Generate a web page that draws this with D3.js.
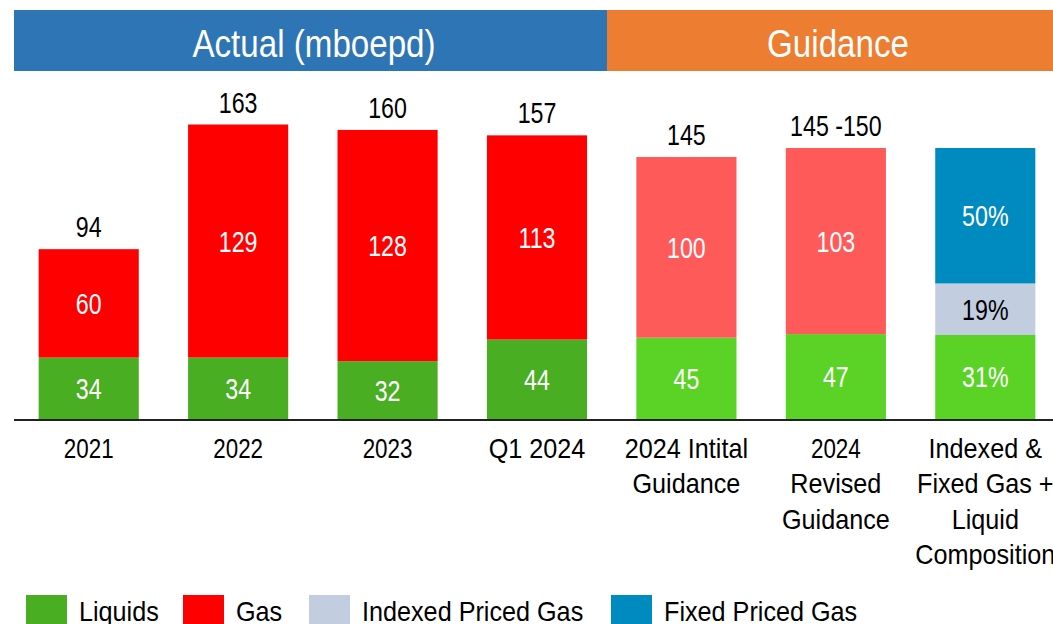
<!DOCTYPE html>
<html>
<head>
<meta charset="utf-8">
<script src="https://cdn.jsdelivr.net/npm/d3@7"></script>
<style>
  body { margin: 0; background: #fff; }
  svg text { font-family: "Liberation Sans", Arial, sans-serif; }
</style>
</head>
<body>
<div id="chart"></div>
<script>
// categories and their wrapped labels
const categories = ["2021", "2022", "2023", "Q1 2024", "2024 Intital Guidance", "2024 Revised Guidance", "Composition"];
const categoryLines = [
    ["2021"], ["2022"], ["2023"], ["Q1 2024"],
    ["2024 Intital", "Guidance"],
    ["2024", "Revised", "Guidance"],
    ["Indexed &", "Fixed Gas +", "Liquid", "Composition"]
];

// mboepd production (stacked)
const stackedCats = ["2021", "2022", "2023", "Q1 2024", "2024 Intital Guidance", "2024 Revised Guidance"];
const phase = ["actual", "actual", "actual", "actual", "guidance", "guidance"];
const liquids = [34, 34, 32, 44, 45, 47];
const gas = [60, 129, 128, 113, 100, 103];
const totalLabels = ["94", "163", "160", "157", "145", "145 -150"];

// composition bar (percent)
const compSeries = ["Liquids", "Indexed Priced Gas", "Fixed Priced Gas"];
const compValues = [31, 19, 50];

// header sections
const headers = ["Actual (mboepd)", "Guidance"];

const legendItems = ["Liquids", "Gas", "Indexed Priced Gas", "Fixed Priced Gas"];

const colors = {
    actualLiquids: "#4aae22",
    actualGas: "#ff0000",
    guidanceLiquids: "#5bd226",
    guidanceGas: "#ff5a5a",
    indexed: "#c3cde0",
    fixed: "#008bc0",
    headerBlue: "#2e75b5",
    headerOrange: "#ed7d31"
};

const width = 1053, height = 624;
const baseline = 419;

// the original uses a condensed face; squeeze Liberation Sans horizontally
const sxFor = s => /^[\d\s%\-]+$/.test(String(s)) ? 0.8 : 0.9;
const place = (px, py, s) => `translate(${px},${py}) scale(${sxFor(s)},1)`;

const svg = d3.select("#chart").append("svg")
    .attr("width", width)
    .attr("height", height);

const x = d3.scaleBand()
    .domain(categories)
    .range([14, 1060])
    .paddingInner(0.33)
    .paddingOuter(0.165);

const y = d3.scaleLinear()
    .domain([0, 150])
    .range([baseline, 148]);

// composition shares fill the same height as the revised guidance bar
const yPct = d3.scaleLinear()
    .domain([0, 100])
    .range([baseline, y(150)]);

const cx = c => x(c) + x.bandwidth() / 2;

// header bands
const headerX = [14, 607];
const headerW = [593, 460];
const headerFill = [colors.headerBlue, colors.headerOrange];
const headerCx = [314, 838];

svg.selectAll(".header")
    .data(headers)
    .enter().append("rect")
    .attr("x", (d, i) => headerX[i])
    .attr("y", 10)
    .attr("width", (d, i) => headerW[i])
    .attr("height", 61)
    .attr("fill", (d, i) => headerFill[i]);

svg.selectAll(".header-text")
    .data(headers)
    .enter().append("text")
    .attr("transform", (d, i) => `translate(${headerCx[i]},57) scale(0.85,1)`)
    .attr("text-anchor", "middle")
    .attr("fill", "#fff")
    .style("font-size", "39px")
    .text(d => d);

// stacked bars
const stackData = stackedCats.map((c, i) => ({ cat: c, phase: phase[i], liquids: liquids[i], gas: gas[i], total: totalLabels[i] }));

const groups = svg.selectAll(".bar")
    .data(stackData)
    .enter().append("g")
    .attr("class", "bar");

groups.append("rect")
    .attr("x", d => x(d.cat))
    .attr("width", x.bandwidth())
    .attr("y", d => y(d.liquids))
    .attr("height", d => baseline - y(d.liquids))
    .attr("fill", d => d.phase === "actual" ? colors.actualLiquids : colors.guidanceLiquids);

groups.append("rect")
    .attr("x", d => x(d.cat))
    .attr("width", x.bandwidth())
    .attr("y", d => y(d.liquids + d.gas))
    .attr("height", d => y(d.liquids) - y(d.liquids + d.gas))
    .attr("fill", d => d.phase === "actual" ? colors.actualGas : colors.guidanceGas);

groups.append("text")
    .attr("transform", d => place(cx(d.cat), (baseline + y(d.liquids)) / 2 + 10.5, d.liquids))
    .attr("text-anchor", "middle")
    .attr("fill", "#fff")
    .style("font-size", "29px")
    .text(d => d.liquids);

groups.append("text")
    .attr("transform", d => place(cx(d.cat), (y(d.liquids) + y(d.liquids + d.gas)) / 2 + 10.5, d.gas))
    .attr("text-anchor", "middle")
    .attr("fill", "#fff")
    .style("font-size", "29px")
    .text(d => d.gas);

groups.append("text")
    .attr("transform", d => place(cx(d.cat), y(d.liquids + d.gas) - 12, d.total))
    .attr("text-anchor", "middle")
    .attr("fill", "#000")
    .style("font-size", "29px")
    .text(d => d.total);

// composition bar
const compColors = [colors.guidanceLiquids, colors.indexed, colors.fixed];
const compTextColors = ["#fff", "#000", "#fff"];
const compStack = [];
let acc = 0;
compValues.forEach((v, i) => {
    compStack.push({ name: compSeries[i], y0: acc, y1: acc + v, value: v, fill: compColors[i], tc: compTextColors[i] });
    acc += v;
});

const comp = svg.append("g");
comp.selectAll("rect")
    .data(compStack)
    .enter().append("rect")
    .attr("x", x("Composition"))
    .attr("width", x.bandwidth())
    .attr("y", d => yPct(d.y1))
    .attr("height", d => yPct(d.y0) - yPct(d.y1))
    .attr("fill", d => d.fill);

comp.selectAll("text")
    .data(compStack)
    .enter().append("text")
    .attr("transform", d => place(cx("Composition"), (yPct(d.y0) + yPct(d.y1)) / 2 + 10.5, d.value + "%"))
    .attr("text-anchor", "middle")
    .attr("fill", d => d.tc)
    .style("font-size", "29px")
    .text(d => d.value + "%");

// baseline
svg.append("line")
    .attr("x1", 14)
    .attr("x2", width)
    .attr("y1", baseline + 1)
    .attr("y2", baseline + 1)
    .attr("stroke", "#222")
    .attr("stroke-width", 2);

// category labels, one text per line
const labelLines = [];
categories.forEach((c, i) => {
    categoryLines[i].forEach((line, j) => labelLines.push({ cat: c, line: line, row: j }));
});

svg.selectAll(".cat")
    .data(labelLines)
    .enter().append("text")
    .attr("class", "cat")
    .attr("transform", d => place(cx(d.cat), 457.5 + d.row * 35.5, d.line))
    .attr("text-anchor", "middle")
    .attr("fill", "#000")
    .style("font-size", "28px")
    .text(d => d.line);

// legend
const legendColors = [colors.actualLiquids, colors.actualGas, colors.indexed, colors.fixed];
const legendX = [26, 183, 309, 611];
const legend = svg.selectAll(".legend")
    .data(legendItems)
    .enter().append("g")
    .attr("transform", (d, i) => `translate(${legendX[i]},595)`);

legend.append("rect")
    .attr("width", 41)
    .attr("height", 30)
    .attr("fill", (d, i) => legendColors[i]);

legend.append("text")
    .attr("transform", d => place(53, 26, d))
    .style("font-size", "28px")
    .attr("fill", "#000")
    .text(d => d);
</script>
</body>
</html>
